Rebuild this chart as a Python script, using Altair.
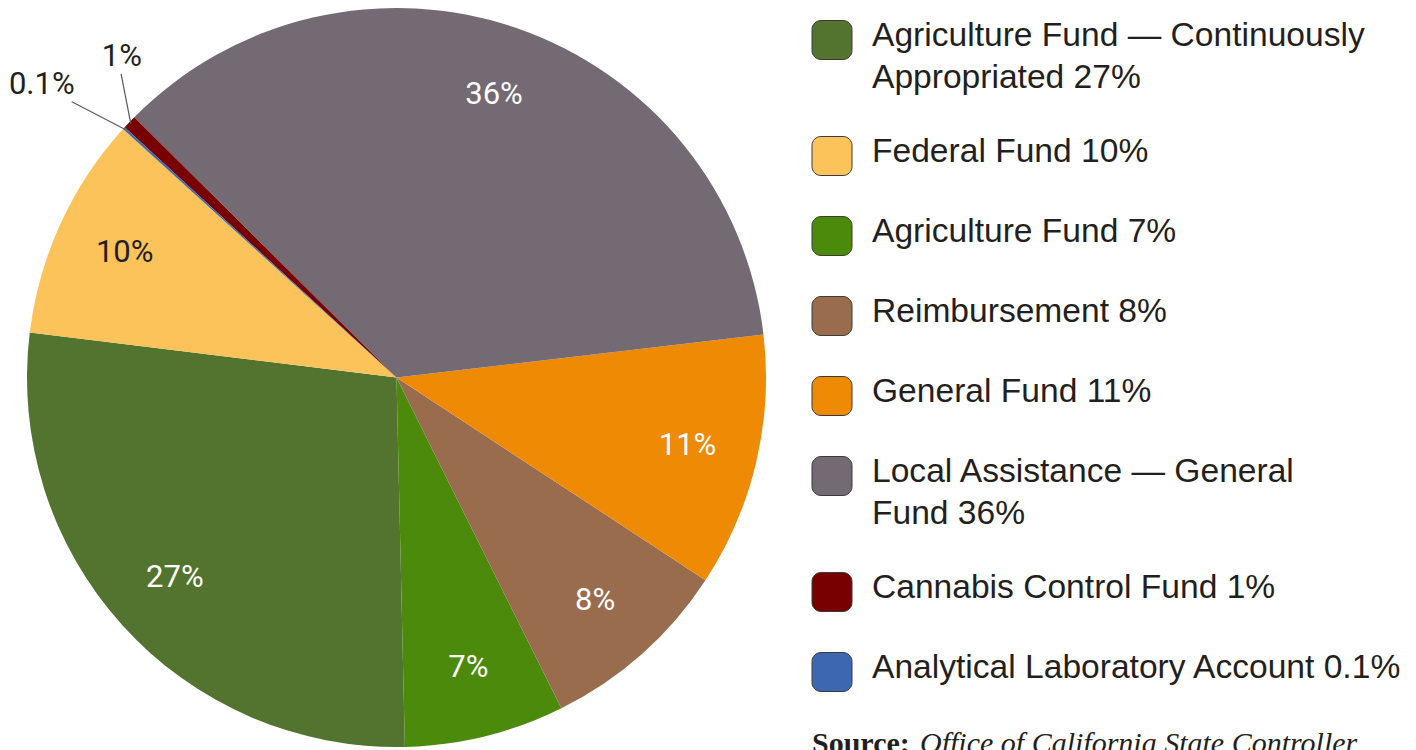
import math
import altair as alt
import pandas as pd

# ---------------- data ----------------
funds = [
    "Agriculture Fund — Continuously Appropriated",
    "Federal Fund",
    "Agriculture Fund",
    "Reimbursement",
    "General Fund",
    "Local Assistance — General Fund",
    "Cannabis Control Fund",
    "Analytical Laboratory Account",
]
legend_labels = [
    "Agriculture Fund — Continuously\nAppropriated 27%",
    "Federal Fund 10%",
    "Agriculture Fund 7%",
    "Reimbursement 8%",
    "General Fund 11%",
    "Local Assistance — General\nFund 36%",
    "Cannabis Control Fund 1%",
    "Analytical Laboratory Account 0.1%",
]
pct_labels = ["27%", "10%", "7%", "8%", "11%", "36%", "1%", "0.1%"]
shares = [27.3, 9.8, 7.0, 8.4, 11.1, 35.7, 0.6, 0.1]
pie_position = [0, 1, 7, 6, 5, 4, 3, 2]  # clockwise order of slices
colors = ["#52742f", "#fcc35a", "#4b8a0b", "#9a6c4e", "#ef8a05",
          "#736a73", "#780000", "#3d68b1"]

# ---------------- layout ----------------
W, H = 1400, 742
CX, CY, R = 388.5, 369.5, 369.5
T0 = math.radians(178.7)
LABEL_FONT = "Roboto"
TEXT_DARK = "#231f20"

df = pd.DataFrame({
    "fund": funds,
    "share": shares,
    "pos": pie_position,
    "pct": pct_labels,
})
df["inside"] = [p if s >= 5 else "" for p, s in zip(pct_labels, shares)]

color = alt.Color("fund:N", scale=alt.Scale(domain=funds, range=colors), legend=None)
theta = alt.Theta("share:Q", stack=True,
                  scale=alt.Scale(range=[T0, T0 + 2 * math.pi]))
order = alt.Order("pos:Q", sort="ascending")

base = alt.Chart(df)

arcs = base.mark_arc(radius=R).encode(
    theta=theta, color=color, order=order,
    x=alt.value(CX), y=alt.value(CY),
)

inside_text = base.mark_text(
    radius=299, font=LABEL_FONT, fontSize=31, baseline="middle", align="center"
).encode(
    theta=theta, order=order,
    x=alt.value(CX), y=alt.value(CY),
    text=alt.Text("inside:N"),
    color=alt.condition(alt.datum.fund == "Federal Fund",
                        alt.value(TEXT_DARK), alt.value("white")),
)

# callouts for the thin slices: (line end radius, line end angle offset deg,
#                                 label radius, label angle offset deg)
callout = {
    "Analytical Laboratory Account": (426, -2.1, 460, -2.9),
    "Cannabis Control Fund": (410, 4.1, 422, 5.7),
}


def pick(idx):
    expr = "0"
    for k, v in callout.items():
        expr = f"datum.fund == '{k}' ? {v[idx]} : ({expr})"
    return expr


mid = (base.transform_window(
    cum="sum(share)", sort=[alt.SortField("pos", order="ascending")],
    frame=[None, 0],
).transform_joinaggregate(total="sum(share)")
 .transform_calculate(mid=f"{T0} + 2*PI*(datum.cum - datum.share/2)/datum.total")
 .transform_filter(alt.datum.share < 5)
 .transform_calculate(
    lr=pick(0), la=f"datum.mid + ({pick(1)})*PI/180",
    tr=pick(2), ta=f"datum.mid + ({pick(3)})*PI/180",
).transform_calculate(
    x1=f"{CX} + {R - 2}*sin(datum.mid)", y1=f"{CY} - {R - 2}*cos(datum.mid)",
    x2=f"{CX} + datum.lr*sin(datum.la)", y2=f"{CY} - datum.lr*cos(datum.la)",
    tx=f"{CX} + datum.tr*sin(datum.ta)", ty=f"{CY} - datum.tr*cos(datum.ta)",
))

leaders = mid.mark_rule(color="#5a5a5a", strokeWidth=1.2).encode(
    x=alt.X("x1:Q", scale=None), y=alt.Y("y1:Q", scale=None),
    x2="x2:Q", y2="y2:Q",
)
outer_text = mid.mark_text(
    font=LABEL_FONT, fontSize=31, baseline="middle", align="center", color=TEXT_DARK
).encode(
    x=alt.X("tx:Q", scale=None), y=alt.Y("ty:Q", scale=None), text="pct:N",
)

# ---------------- legend (built manually) ----------------
extra = [lab.count("\n") for lab in legend_labels]
ycen = []
acc = 0
for i, e in enumerate(extra):
    ycen.append(32 + 80 * i + 36 * acc)
    acc += e
leg = pd.DataFrame({"fund": funds, "label": legend_labels, "yc": ycen})

leg_base = alt.Chart(leg).transform_calculate(
    ytop="datum.yc - 19.5", ybot="datum.yc + 19.5", ybase="datum.yc + 6"
)
leg_rect = leg_base.mark_rect(cornerRadius=9, stroke="#3a3a3a", strokeWidth=1).encode(
    x=alt.value(804), x2=alt.value(844),
    y=alt.Y("ytop:Q", scale=None), y2="ybot:Q",
    color=color,
)
leg_text = leg_base.mark_text(
    align="left", baseline="alphabetic", font="Liberation Sans", fontSize=33.6,
    lineBreak="\n", lineHeight=42, color=TEXT_DARK,
).encode(
    x=alt.value(864), y=alt.Y("ybase:Q", scale=None), text="label:N",
)

# ---------------- source ----------------
src = pd.DataFrame({"a": ["Source:"], "b": ["Office of California State Controller"]})
src_bold = alt.Chart(src).mark_text(
    align="left", baseline="alphabetic", font="Liberation Serif", fontSize=30,
    fontWeight="bold", color=TEXT_DARK,
).encode(x=alt.value(804), y=alt.value(745), text="a:N")
src_it = alt.Chart(src).mark_text(
    align="left", baseline="alphabetic", font="Liberation Serif", fontSize=30,
    fontStyle="italic", color=TEXT_DARK,
).encode(x=alt.value(912), y=alt.value(745), text="b:N")

chart = alt.layer(
    arcs, inside_text, leaders, outer_text, leg_rect, leg_text, src_bold, src_it
).properties(
    width=W, height=H, autosize=alt.AutoSizeParams(type="none"), padding=0,
    background="white",
).configure_view(strokeWidth=0)

chart.save("out.html", embed_options={"renderer": "svg", "actions": False})
